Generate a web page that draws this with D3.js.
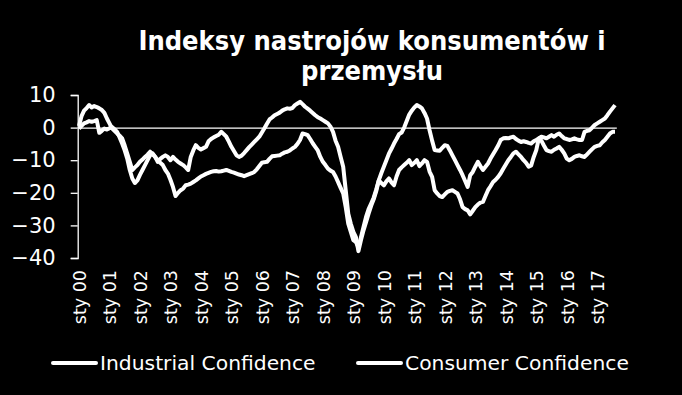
<!DOCTYPE html>
<html>
<head>
<meta charset="utf-8">
<script src="https://cdn.jsdelivr.net/npm/d3@7"></script>
<style>
  html, body { margin: 0; padding: 0; background: #000; }
  svg { display: block; }
  .lbl { font-family: "DejaVu Sans", sans-serif; fill: #fff; }
</style>
</head>
<body>
<svg id="chart" width="682" height="395"></svg>
<script>
// Monthly readings, Jan 2000 - Aug 2017, one row per year.
var industrial = [
     0.5,   3.5,   5.2,   6.0,   6.9,   6.2,   6.6,   6.3,   5.9,   5.4,   4.5,   2.8,
     1.3,  -0.2,  -1.0,  -1.8,  -2.5,  -3.3,  -5.5,  -8.0, -10.5, -13.0, -12.2, -11.5,
   -10.5,  -9.8,  -9.0,  -8.3,  -7.4,  -8.2,  -9.0, -10.5,  -9.6,  -9.0,  -8.5,  -9.0,
   -10.0,  -9.0,  -9.8, -10.5, -11.0, -11.5, -12.2, -13.0,  -9.0,  -7.0,  -5.4,  -6.2,
    -6.7,  -6.3,  -5.9,  -4.2,  -3.5,  -3.0,  -2.6,  -2.2,  -1.3,  -2.0,  -2.8,  -4.3,
    -5.9,  -7.2,  -8.5,  -9.0,  -8.6,  -7.8,  -6.9,  -6.0,  -5.2,  -4.4,  -3.6,  -2.8,
    -1.5,  -0.2,   1.2,   2.5,   3.1,   3.8,   4.2,   4.6,   5.2,   5.6,   5.9,   5.8,
     6.0,   6.9,   7.4,   7.9,   7.2,   6.4,   5.8,   5.2,   4.5,   3.8,   3.2,   2.8,
     2.3,   1.8,   1.3,   0.3,  -1.3,  -4.0,  -5.9,  -9.0, -12.0, -19.2, -26.4, -29.5,
   -32.0, -33.6, -37.9, -34.5, -31.5, -29.0, -26.4, -24.0, -22.0, -19.5, -16.2, -14.0,
   -12.0, -10.0,  -8.0,  -6.5,  -4.9,  -3.5,  -2.0,  -1.5,   0.0,   2.0,   4.0,   5.2,
     6.2,   6.9,   6.5,   5.9,   4.5,   2.8,  -0.8,  -4.0,  -6.9,  -7.0,  -7.1,  -6.2,
    -5.4,  -5.6,  -7.0,  -8.5, -10.0, -11.5, -13.0, -14.6, -16.4, -18.2, -14.6, -13.6,
   -12.0, -10.5, -11.8, -13.0, -12.0, -11.0,  -9.5,  -8.2,  -6.9,  -5.5,  -3.8,  -3.3,
    -3.2,  -3.3,  -3.0,  -2.8,  -3.5,  -4.0,  -4.4,  -4.2,  -4.4,  -4.7,  -4.9,  -4.2,
    -3.8,  -3.3,  -4.0,  -5.5,  -6.9,  -7.2,  -7.4,  -6.8,  -6.4,  -5.9,  -6.8,  -7.9,
    -9.5, -10.0,  -9.6,  -9.0,  -8.7,  -8.5,  -8.8,  -9.0,  -8.2,  -7.4,  -6.6,  -5.9,
    -5.6,  -5.4,  -4.5,  -3.8,  -2.8,  -1.8,  -1.3,  -1.3
];

var consumer = [
    -0.3,   0.5,   1.3,   1.6,   2.0,   1.8,   2.0,   2.3,  -1.6,  -1.0,  -0.3,  -0.6,
    -0.2,   0.2,  -0.5,  -1.3,  -3.0,  -4.9,  -7.0,  -9.5, -13.0, -15.6, -17.0, -16.2,
   -14.5, -13.0, -11.5, -10.0,  -8.5,  -7.9,  -9.0, -10.0, -10.8, -11.5, -13.0, -14.1,
   -16.0, -18.2, -21.0, -20.0, -19.2, -18.7, -17.7, -17.5, -17.2, -16.7, -16.2, -15.6,
   -15.0, -14.6, -14.2, -13.9, -13.6, -13.4, -13.3, -13.5, -13.4, -13.2, -13.0, -13.3,
   -13.6, -13.8, -14.1, -14.4, -14.6, -14.9, -14.6, -14.3, -14.0, -13.6, -12.8, -11.8,
   -10.8, -10.6, -10.5,  -9.6,  -8.8,  -8.7,  -8.6,  -8.5,  -8.0,  -7.6,  -7.4,  -7.0,
    -6.4,  -5.9,  -5.0,  -3.8,  -1.8,  -2.0,  -2.3,  -3.5,  -4.8,  -5.9,  -7.0,  -9.0,
   -10.5, -11.5, -12.6, -13.2, -13.6, -15.0, -16.7, -18.5, -20.2, -24.4, -29.5, -32.0,
   -34.5, -35.1, -36.7, -33.6, -30.5, -27.4, -25.0, -23.3, -21.5, -19.0, -16.2, -17.0,
   -17.7, -16.5, -15.6, -16.8, -17.7, -15.0, -13.0, -12.2, -11.5, -10.8, -10.0, -11.5,
   -10.8, -10.0, -11.8, -11.0, -10.0, -10.5, -13.5, -15.1, -19.2, -20.2, -21.0, -21.3,
   -20.5, -19.7, -19.4, -19.2, -19.7, -20.2, -22.0, -24.4, -25.0, -25.4, -26.6, -25.5,
   -24.4, -23.6, -23.0, -22.8, -21.0, -19.2, -18.0, -16.7, -16.0, -15.1, -14.0, -12.6,
   -11.3, -10.0,  -9.0,  -7.9,  -7.4,  -8.2,  -9.0, -10.0, -10.8, -12.0, -11.6,  -9.0,
    -6.9,  -3.3,  -2.8,  -3.0,  -3.3,  -2.8,  -2.3,  -2.8,  -2.2,  -1.8,  -2.6,  -3.3,
    -3.5,  -3.8,  -3.6,  -3.3,  -3.6,  -3.8,  -3.8,  -1.3,  -1.0,  -0.8,   0.0,   0.8,
     1.3,   1.8,   2.3,   2.8,   3.8,   4.9,   5.9,   6.9
];

// One label every January.
var yearLabels = ["sty 00", "sty 01", "sty 02", "sty 03", "sty 04", "sty 05",
    "sty 06", "sty 07", "sty 08", "sty 09", "sty 10", "sty 11", "sty 12",
    "sty 13", "sty 14", "sty 15", "sty 16", "sty 17"];
var yTicks = [-40, -30, -20, -10, 0, 10];
var titleLines = ["Indeksy nastrojów konsumentów i", "przemysłu"];
var seriesNames = ["Industrial Confidence", "Consumer Confidence"];

const svg = d3.select("#chart");

// Category axis: one slot per month, points in the middle of a slot.
const x = d3.scaleLinear()
    .domain([-0.5, industrial.length - 0.5])
    .range([77.7, 616.3]);

const y = d3.scaleLinear()
    .domain([-40, 10])
    .range([258, 95]);

svg.append("rect")
    .attr("width", 682).attr("height", 395)
    .attr("fill", "#000");

// Title, two centred lines.
svg.append("g")
    .selectAll("text")
    .data(titleLines)
    .enter()
    .append("text")
    .attr("x", 372)
    .attr("y", (d, i) => 50 + i * 30)
    .attr("text-anchor", "middle")
    .style("font-family", '"DejaVu Sans Condensed", "DejaVu Sans", sans-serif')
    .style("font-weight", "bold")
    .style("font-size", "27px")
    .style("fill", "#fff")
    .text((d) => d);

// Value axis on the left.
const yAxis = svg.append("g")
    .attr("transform", "translate(77.7,0)")
    .call(d3.axisLeft(y).tickValues(yTicks).tickSize(7).tickPadding(15).tickFormat(d3.format("d")));

yAxis.select(".domain").attr("stroke", "#fff").attr("stroke-width", 1.3);
yAxis.selectAll(".tick line").attr("stroke", "#fff").attr("stroke-width", 1.3);
yAxis.selectAll(".tick text")
    .attr("class", "lbl")
    .style("font-size", "21px")
    .attr("fill", "#fff");

// Category axis line crossing at zero.
const xAxis = svg.append("g")
    .attr("transform", "translate(0," + y(0) + ")")
    .call(d3.axisBottom(x).tickValues([]).tickSizeOuter(0));

xAxis.select(".domain").attr("stroke", "#fff").attr("stroke-width", 1.3);

// Year labels sit below the plot, rotated.
const xLabels = svg.append("g")
    .attr("transform", "translate(0,258)")
    .call(d3.axisBottom(x)
        .tickValues(yearLabels.map((d, i) => i * 12))
        .tickFormat((d, i) => yearLabels[i])
        .tickSize(0));

xLabels.select(".domain").remove();
xLabels.selectAll(".tick text")
    .attr("class", "lbl")
    .style("font-size", "17.5px")
    .attr("fill", "#fff")
    .attr("transform", "rotate(-90)")
    .attr("text-anchor", "end")
    .attr("x", -12)
    .attr("y", 0)
    .attr("dy", "0.36em");

// The two series.
const line = d3.line()
    .x((d, i) => x(i))
    .y((d) => y(d));

svg.append("g")
    .selectAll("path")
    .data([industrial, consumer])
    .enter()
    .append("path")
    .attr("d", line)
    .attr("fill", "none")
    .attr("stroke", "#fff")
    .attr("stroke-width", 4)
    .attr("stroke-linejoin", "round");

// Legend.
const legend = svg.append("g")
    .selectAll("g")
    .data(seriesNames)
    .enter()
    .append("g")
    .attr("transform", (d, i) => "translate(" + (i == 0 ? 53 : 358) + ",363)");

legend.append("line")
    .attr("x1", 0).attr("x2", 43)
    .attr("stroke", "#fff")
    .attr("stroke-width", 4)
    .attr("stroke-linecap", "round");

legend.append("text")
    .attr("class", "lbl")
    .attr("x", 47)
    .attr("y", 7)
    .style("font-size", "20.3px")
    .text((d) => d);
</script>
</body>
</html>
